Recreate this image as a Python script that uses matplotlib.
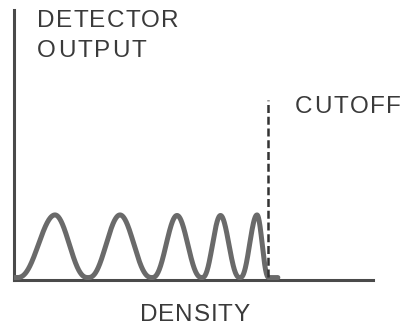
import numpy as np
import matplotlib
matplotlib.use("Agg")
import matplotlib.pyplot as plt

plt.rcParams['font.family'] = ['Liberation Sans', 'DejaVu Sans']

# peaks along the density axis: centre, height, half-width of the base on each side
peak_centers = [11.42, 29.53, 45.40, 57.52, 67.69]
peak_heights = [23.2, 23.2, 23.0, 23.0, 23.2]
half_base_left = [10.6, 8.9, 6.96, 5.15, 4.74]
half_base_right = [9.19, 8.91, 6.96, 5.43, 3.34]
baseline = 0.9
trace_end = 73.5
cutoff_x = 70.75
cutoff_top = 66.7

x_label = "DENSITY"
y_label = ["DETECTOR", "OUTPUT"]
cutoff_label = "CUTOFF"

W, H = 403, 330
fig = plt.figure(figsize=(W / 100, H / 100), dpi=100)
ax = fig.add_axes([14 / W, 50 / H, 359 / W, 270 / H])
ax.set_xlim(0, 100)
ax.set_ylim(0, 100)

# detector trace built from one rounded pulse per peak
x = np.linspace(0, trace_end, 1200)
y = np.full_like(x, baseline)
for c, h, hl, hr in zip(peak_centers, peak_heights, half_base_left, half_base_right):
    d = x - c
    u = np.where(d < 0, d / hl, d / hr)
    pulse = np.where(np.abs(u) < 1, np.cos(np.pi * u / 2) ** 2.5, 0.0)
    y += h * pulse
ax.plot(x, y, color='#6a6a6a', lw=3.6, solid_capstyle='round',
        solid_joinstyle='round', zorder=3)

# cutoff marker
ax.plot([cutoff_x, cutoff_x], [1, cutoff_top], color='#333333', lw=1.8,
        dashes=[3.2, 1.5], zorder=4)

for side in ['top', 'right']:
    ax.spines[side].set_visible(False)
for side in ['left', 'bottom']:
    ax.spines[side].set_color('#4a4a4a')
    ax.spines[side].set_linewidth(2.2)
ax.set_xticks([])
ax.set_yticks([])
ax.patch.set_alpha(0)


def spaced_text(x_px, y_px, s, track=1.5, **kw):
    # draw letters one at a time to open up the tracking a little
    r = fig.canvas.get_renderer()
    for i, ch in enumerate(s):
        if i:
            probe = fig.text(0, 0, s[:i], **kw)
            off = probe.get_window_extent(r).width
            probe.remove()
        else:
            off = 0
        fig.text((x_px + off + i * track) / W, 1 - y_px / H, ch, **kw)


txt = dict(fontsize=17.5, color='#3a3a3a', va='top', ha='left')
spaced_text(37, 10, y_label[0], track=1.2, **txt)
spaced_text(37, 40, y_label[1], track=2.0, **txt)
spaced_text(295, 96, cutoff_label, track=1.6, **txt)
spaced_text(140, 304, x_label, track=0.8, **txt)

fig.savefig("out.png", dpi=100, facecolor='white')
